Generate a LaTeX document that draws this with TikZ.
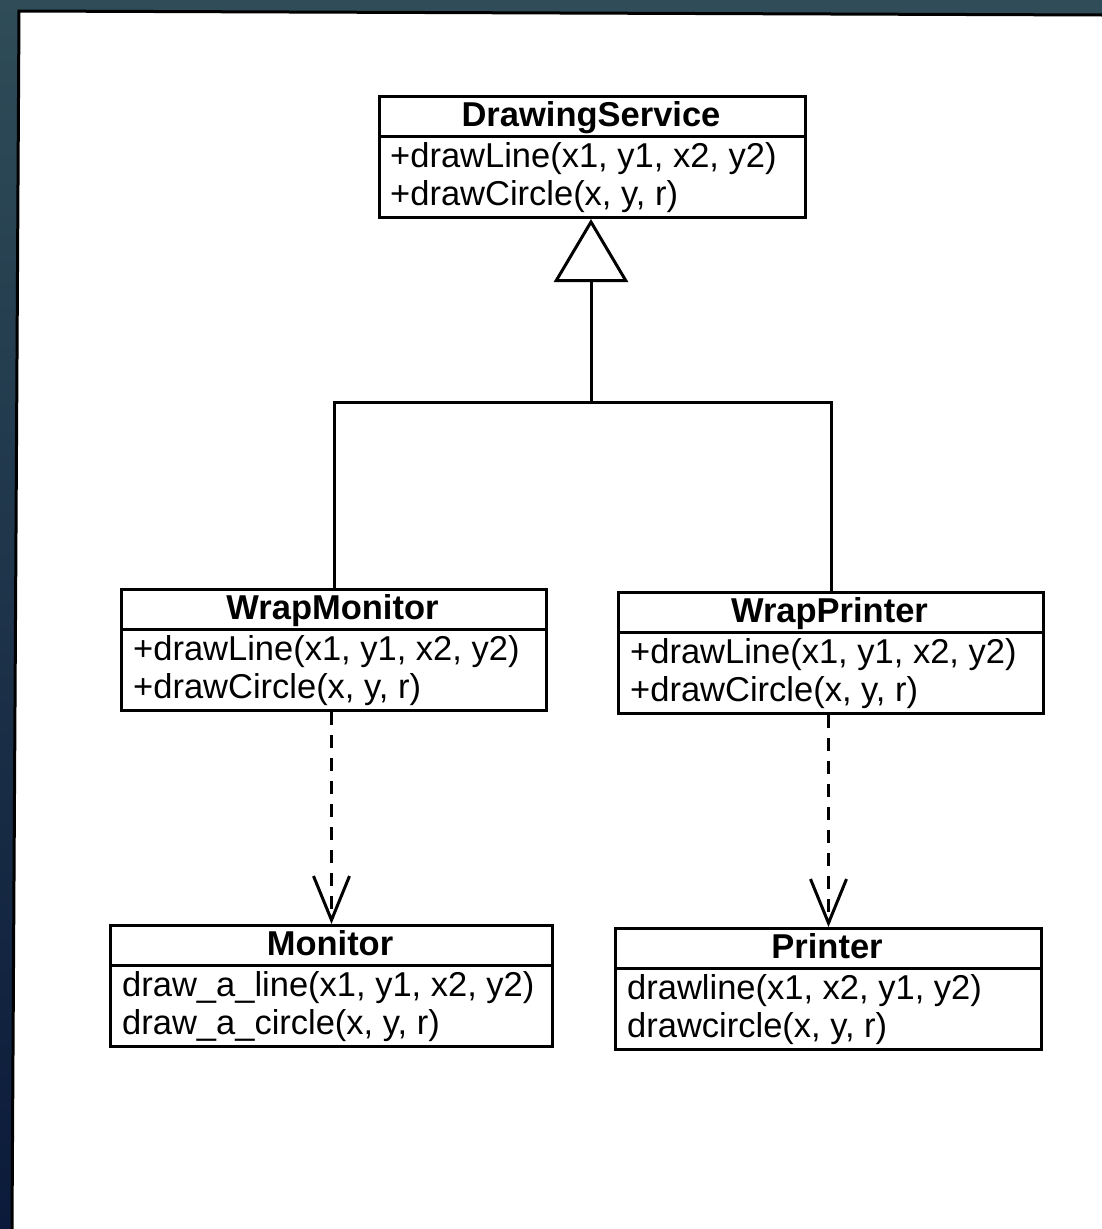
\documentclass[tikz,border=0pt]{standalone}
\usepackage{fontspec}
\setmainfont{Liberation Sans}
\usetikzlibrary{arrows.meta}
\definecolor{bgtop}{HTML}{2F4C58}
\definecolor{bgbot}{HTML}{0B1A3A}
\begin{document}
\begin{tikzpicture}[x=1pt,y=-1pt,
  every node/.style={font=\fontsize{34.5}{40}\selectfont, inner sep=0pt},
  cls/.style={draw, line width=3pt, anchor=north west, minimum height=121pt, minimum width=#1},
  ttl/.style={font=\fontsize{34.5}{40}\selectfont\bfseries, anchor=base},
  mem/.style={anchor=base west},
  conn/.style={line width=3pt},
  dep/.style={line width=3.2pt, dash pattern=on 13pt off 10pt, -{Straight Barb[length=44pt, width=36pt, line width=3pt]}},
]
\useasboundingbox (0,0) rectangle (1102,1229);
\shade[top color=bgtop, bottom color=bgbot] (0,0) rectangle (1102,1229);
\fill[white] (12,1229) -- (19,11) -- (1102,15) -- (1102,1229) -- cycle;
\draw[line width=3pt] (12,1229) -- (19,11) -- (1102,15);

% DrawingService
\node[cls=426pt] (ds) at (378,95) {};
\node[ttl] (dst) at (591,126) {DrawingService};
\node[mem] (ds1) at (390,167) {+drawLine(x1, y1, x2, y2)};
\node[mem] (ds2) at (390,205) {+drawCircle(x, y, r)};
\draw[conn] (378,136) -- (804,136);

% WrapMonitor
\node[cls=425pt] (wm) at (120,588) {};
\node[ttl] (wmt) at (332.5,619) {WrapMonitor};
\node[mem] (wm1) at (133,660) {+drawLine(x1, y1, x2, y2)};
\node[mem] (wm2) at (133,698) {+drawCircle(x, y, r)};
\draw[conn] (120,629) -- (545,629);

% WrapPrinter
\node[cls=425pt] (wp) at (617,591) {};
\node[ttl] (wpt) at (829.5,622) {WrapPrinter};
\node[mem] (wp1) at (630,663) {+drawLine(x1, y1, x2, y2)};
\node[mem] (wp2) at (630,701) {+drawCircle(x, y, r)};
\draw[conn] (617,632) -- (1042,632);

% Monitor
\node[cls=442pt] (mon) at (109,924) {};
\node[ttl] (mont) at (330,955) {Monitor};
\node[mem] (mon1) at (122,996) {draw\_a\_line(x1, y1, x2, y2)};
\node[mem] (mon2) at (122,1034) {draw\_a\_circle(x, y, r)};
\draw[conn] (109,965) -- (551,965);

% Printer
\node[cls=426pt] (pr) at (614,927) {};
\node[ttl] (prt) at (827,958) {Printer};
\node[mem] (pr1) at (627,999) {drawline(x1, x2, y1, y2)};
\node[mem] (pr2) at (627,1037) {drawcircle(x, y, r)};
\draw[conn] (614,968) -- (1040,968);

% generalization
\coordinate (j) at (591,402);
\draw[conn] (wm.north) |- (j) -| (wp.north);
\draw[conn, -{Triangle[open, length=63pt, width=74pt, line width=3pt]}] (j) -- (j |- ds.south);

% dependencies
\draw[dep] (wm.south -| mon.north) -- (mon.north);
\draw[dep] (wp.south -| pr.north) -- (pr.north);
\end{tikzpicture}
\end{document}
